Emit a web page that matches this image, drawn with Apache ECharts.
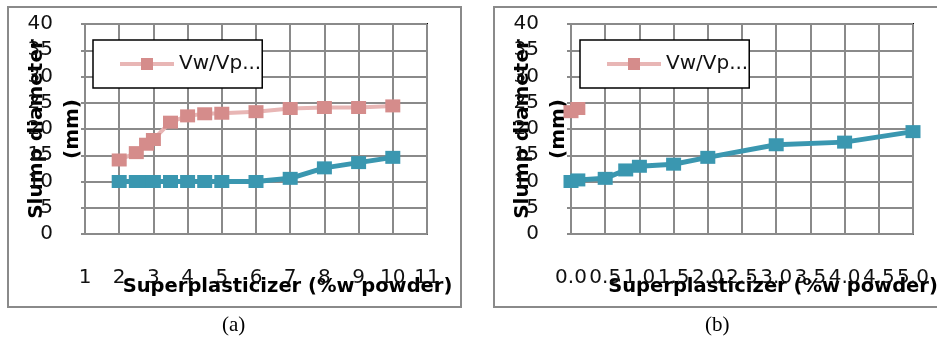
<!DOCTYPE html>
<html>
<head>
<meta charset="utf-8">
<script src="https://cdn.jsdelivr.net/npm/echarts@6/dist/echarts.min.js"></script>
<style>
  html, body { margin: 0; padding: 0; background: #fff; }
  #chart { width: 937px; height: 341px; }
</style>
</head>
<body>
<div id="chart"></div>
<script>
// panel (a): superplasticizer 1..11
const xA = [2, 2.5, 2.8, 3, 3.5, 4, 4.5, 5, 6, 7, 8, 9, 10]
const pinkA = [14.1, 15.5, 17.1, 18.0, 21.3, 22.5, 22.9, 23.0, 23.3, 23.9, 24.1, 24.1, 24.4]
const tealA = [10, 10, 10, 10, 10, 10, 10, 10, 10, 10.6, 12.6, 13.6, 14.6]

// panel (b): superplasticizer 0..5
const xPinkB = [0, 0.1]
const pinkB = [23.3, 23.9]
const xB = [0, 0.1, 0.5, 0.8, 1.0, 1.5, 2.0, 3.0, 4.0, 5.0]
const tealB = [10.0, 10.3, 10.6, 12.2, 12.9, 13.3, 14.6, 17.0, 17.5, 19.5]

const legendName = 'Vw/Vp...'
const otherName = 'Vw/Vp (2)'

const pink = '#d58c8b'
const pinkLine = '#e8b6b5'
const teal = '#3a97b0'
const gridGray = '#8a8a8a'

const zip = (xs, ys) => xs.map((x, i) => [x, ys[i]])

const chart = echarts.init(document.getElementById('chart'))

const makeX = (idx, min, max, interval, fmt, padLeft) => ({
  type: 'value',
  gridIndex: idx,
  min: min,
  max: max,
  interval: interval,
  name: 'Superplasticizer (%w powder)',
  nameLocation: 'middle',
  nameGap: 43,
  nameMoveOverlap: false,
  nameTextStyle: {
    fontFamily: 'DejaVu Sans',
    fontWeight: 'bold',
    fontSize: 19.5,
    color: '#000',
    padding: [0, 0, 0, padLeft]
  },
  axisLine: { show: true, onZero: false, lineStyle: { color: gridGray, width: 2 } },
  axisTick: { show: false },
  axisLabel: {
    margin: 34,
    fontSize: 20,
    color: '#111',
    hideOverlap: false,
    formatter: fmt
  },
  splitLine: { show: true, lineStyle: { color: gridGray, width: 2 } }
})

const makeY = (idx) => ({
  type: 'value',
  gridIndex: idx,
  min: 0,
  max: 40,
  interval: 5,
  name: 'Slump diameter\n(mm)',
  nameLocation: 'middle',
  nameRotate: 90,
  nameGap: -6,
  nameMoveOverlap: false,
  nameTextStyle: {
    fontFamily: 'DejaVu Sans',
    fontWeight: 'bold',
    fontSize: 20,
    lineHeight: 36,
    color: '#000'
  },
  axisLine: { show: true, onZero: false, lineStyle: { color: gridGray, width: 2 } },
  axisTick: { show: true, length: 4, lineStyle: { color: gridGray, width: 2 } },
  axisLabel: { margin: 32, fontSize: 20, color: '#111' },
  splitLine: { show: true, lineStyle: { color: gridGray, width: 2 } }
})

const makeLegend = (left) => ({
  left: left,
  top: 40,
  data: [legendName],
  backgroundColor: '#fff',
  borderColor: '#000',
  borderWidth: 1.5,
  borderRadius: 0,
  padding: [14, 1, 14, 25],
  itemWidth: 54,
  itemHeight: 15,
  itemGap: 4,
  lineStyle: { width: 4, color: pinkLine },
  textStyle: { fontSize: 20, color: '#111', fontFamily: 'DejaVu Sans' }
})

const pinkSeries = (x, y, data) => ({
  name: legendName,
  type: 'line',
  xAxisIndex: x,
  yAxisIndex: y,
  data: data,
  symbol: 'rect',
  symbolSize: [15, 13],
  itemStyle: { color: pink },
  lineStyle: { color: pinkLine, width: 4 },
  animation: false
})

const tealSeries = (x, y, data) => ({
  name: otherName,
  type: 'line',
  xAxisIndex: x,
  yAxisIndex: y,
  data: data,
  symbol: 'rect',
  symbolSize: [15, 13],
  itemStyle: { color: teal },
  lineStyle: { color: teal, width: 5 },
  animation: false
})

const gridBox = (left) => ({
  left: left,
  top: 24,
  width: 342,
  height: 210,
  outerBoundsMode: 'none',
  containLabel: false,
  show: true,
  borderColor: '#000',
  borderWidth: 2,
  backgroundColor: 'rgba(0,0,0,0)'
})

const option = {
  backgroundColor: '#fff',
  animation: false,
  textStyle: { fontFamily: 'DejaVu Sans' },
  grid: [gridBox(85), gridBox(571)],
  xAxis: [
    makeX(0, 1, 11, 1, v => String(v), 63),
    makeX(1, 0, 5, 0.5, v => v.toFixed(1), 62)
  ],
  yAxis: [makeY(0), makeY(1)],
  legend: [makeLegend(93), makeLegend(580)],
  series: [
    pinkSeries(0, 0, zip(xA, pinkA)),
    tealSeries(0, 0, zip(xA, tealA)),
    pinkSeries(1, 1, zip(xPinkB, pinkB)),
    tealSeries(1, 1, zip(xB, tealB))
  ],
  graphic: [
    // outer chart-area frames
    { type: 'rect', shape: { x: 8, y: 7, width: 453, height: 300 }, style: { fill: 'none', stroke: gridGray, lineWidth: 2 }, silent: true },
    { type: 'rect', shape: { x: 494, y: 7, width: 460, height: 300 }, style: { fill: 'none', stroke: gridGray, lineWidth: 2 }, silent: true },
    // captions
    { type: 'text', left: 222, top: 315, style: { text: '(a)', fontFamily: 'Liberation Serif', fontSize: 21, fill: '#000' } },
    { type: 'text', left: 705, top: 315, style: { text: '(b)', fontFamily: 'Liberation Serif', fontSize: 21, fill: '#000' } }
  ]
}

chart.setOption(option)
window.addEventListener('resize', () => chart.resize())
</script>
</body>
</html>
